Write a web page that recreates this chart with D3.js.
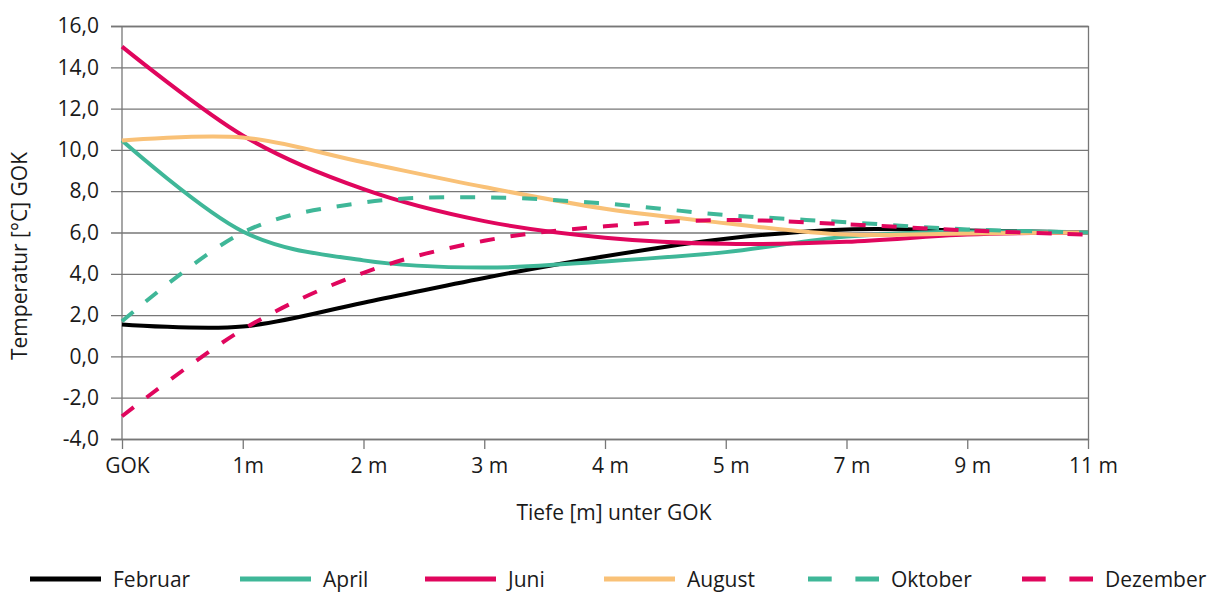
<!DOCTYPE html>
<html>
<head>
<meta charset="utf-8">
<script src="https://cdn.jsdelivr.net/npm/d3@7"></script>
<style>
  html, body { margin: 0; padding: 0; background: #fff; }
  svg { display: block; }
  text { font-family: 'Open Sans', Roboto, sans-serif; fill: #1a1a1a; }
</style>
</head>
<body>
<div id="chart"></div>
<script>
// Tiefen (x-Achse)
const TIEFEN = ['GOK', '1m', '2 m', '3 m', '4 m', '5 m', '7 m', '9 m', '11 m']
const Y_TICKS = [-4, -2, 0, 2, 4, 6, 8, 10, 12, 14, 16]

// Temperaturen je Monat
const FEBRUAR = [1.55, 1.45, 2.6, 3.8, 4.85, 5.7, 6.15, 6.1, 6.0]
const APRIL = [10.45, 6.05, 4.65, 4.3, 4.6, 5.05, 5.8, 6.05, 6.0]
const JUNI = [15.0, 10.7, 8.1, 6.55, 5.75, 5.45, 5.55, 5.9, 6.0]
const AUGUST = [10.45, 10.6, 9.4, 8.2, 7.15, 6.45, 5.9, 5.95, 6.0]
const OKTOBER = [1.7, 6.0, 7.45, 7.7, 7.4, 6.85, 6.5, 6.15, 6.0]
const DEZEMBER = [-2.9, 1.3, 4.05, 5.6, 6.3, 6.6, 6.4, 6.1, 5.9]

const GRUEN = '#3fb798'
const ROT = '#e0065d'
const ORANGE = '#f9c177'

const SERIES = [
  { name: 'Februar', values: FEBRUAR, color: '#000000', dashed: false, lx: 30 },
  { name: 'April', values: APRIL, color: GRUEN, dashed: false, lx: 240 },
  { name: 'Juni', values: JUNI, color: ROT, dashed: false, lx: 425 },
  { name: 'August', values: AUGUST, color: ORANGE, dashed: false, lx: 604 },
  { name: 'Oktober', values: OKTOBER, color: GRUEN, dashed: true, lx: 808 },
  { name: 'Dezember', values: DEZEMBER, color: ROT, dashed: true, lx: 1022 }
]

const WIDTH = 1211
const HEIGHT = 592
const MARGIN = { top: 26, bottom: 153, left: 122, right: 123 }
const GRID_COLOR = '#777777'
const FONT = '21px'

const svg = d3.select('#chart')
  .append('svg')
  .attr('width', WIDTH)
  .attr('height', HEIGHT)

const x = d3.scalePoint()
  .domain(TIEFEN)
  .range([MARGIN.left, WIDTH - MARGIN.right])

const y = d3.scaleLinear()
  .domain([-4, 16])
  .range([HEIGHT - MARGIN.bottom, MARGIN.top])

// Gitternetz + y-Achse
const yAxis = svg.append('g')
  .attr('transform', `translate(${WIDTH - MARGIN.right},0)`)
  .call(d3.axisLeft(y)
    .tickValues(Y_TICKS)
    .tickSize(WIDTH - MARGIN.right - MARGIN.left + 11)
    .tickPadding(12)
    .tickFormat(d => d.toFixed(1).replace('.', ',')))
yAxis.select('.domain').attr('stroke', GRID_COLOR).attr('stroke-width', 1.3)
yAxis.selectAll('.tick line').attr('stroke', GRID_COLOR).attr('stroke-width', 1.3)
yAxis.selectAll('.tick text')
  .style('font-size', FONT)
  .style('font-family', "'Open Sans', sans-serif")
  .attr('fill', '#1a1a1a')

// linke Achse
svg.append('line')
  .attr('x1', MARGIN.left).attr('x2', MARGIN.left)
  .attr('y1', y(16)).attr('y2', y(-4))
  .attr('stroke', GRID_COLOR).attr('stroke-width', 1.3)

// x-Achse
const xAxis = svg.append('g')
  .attr('transform', `translate(0,${HEIGHT - MARGIN.bottom})`)
  .call(d3.axisBottom(x).tickSize(10).tickPadding(9))
xAxis.select('.domain').remove()
xAxis.selectAll('.tick line').attr('stroke', GRID_COLOR).attr('stroke-width', 1.3)
xAxis.selectAll('.tick text')
  .attr('dx', 5)
  .style('font-size', FONT)
  .style('font-family', "'Open Sans', sans-serif")
  .attr('fill', '#1a1a1a')

// Achsentitel
svg.append('text')
  .attr('x', (MARGIN.left + WIDTH - MARGIN.right) / 2 + 9)
  .attr('y', 520)
  .attr('text-anchor', 'middle')
  .style('font-size', FONT)
  .text('Tiefe [m] unter GOK')

svg.append('text')
  .attr('text-anchor', 'middle')
  .attr('transform', 'translate(27,256) rotate(-90)')
  .style('font-size', FONT)
  .text('Temperatur [°C] GOK')

// Linien
const line = d3.line()
  .x((d, i) => x(TIEFEN[i]))
  .y(d => y(d))
  .curve(d3.curveCatmullRom.alpha(0))

svg.append('g')
  .selectAll('path')
  .data(SERIES)
  .join('path')
  .attr('d', d => line(d.values))
  .attr('fill', 'none')
  .attr('stroke', d => d.color)
  .attr('stroke-width', 4)
  .attr('stroke-dasharray', d => d.dashed ? '15,16' : null)

// Legende
const legend = svg.append('g')
  .selectAll('g')
  .data(SERIES)
  .join('g')
  .attr('transform', d => `translate(${d.lx},579)`)

legend.append('line')
  .attr('x1', 0).attr('x2', 71)
  .attr('stroke', d => d.color)
  .attr('stroke-width', 5)
  .attr('stroke-dasharray', d => d.dashed ? '23.7,23.7' : null)

legend.append('text')
  .attr('x', 83)
  .attr('y', 8)
  .style('font-size', FONT)
  .text(d => d.name)
</script>
</body>
</html>
